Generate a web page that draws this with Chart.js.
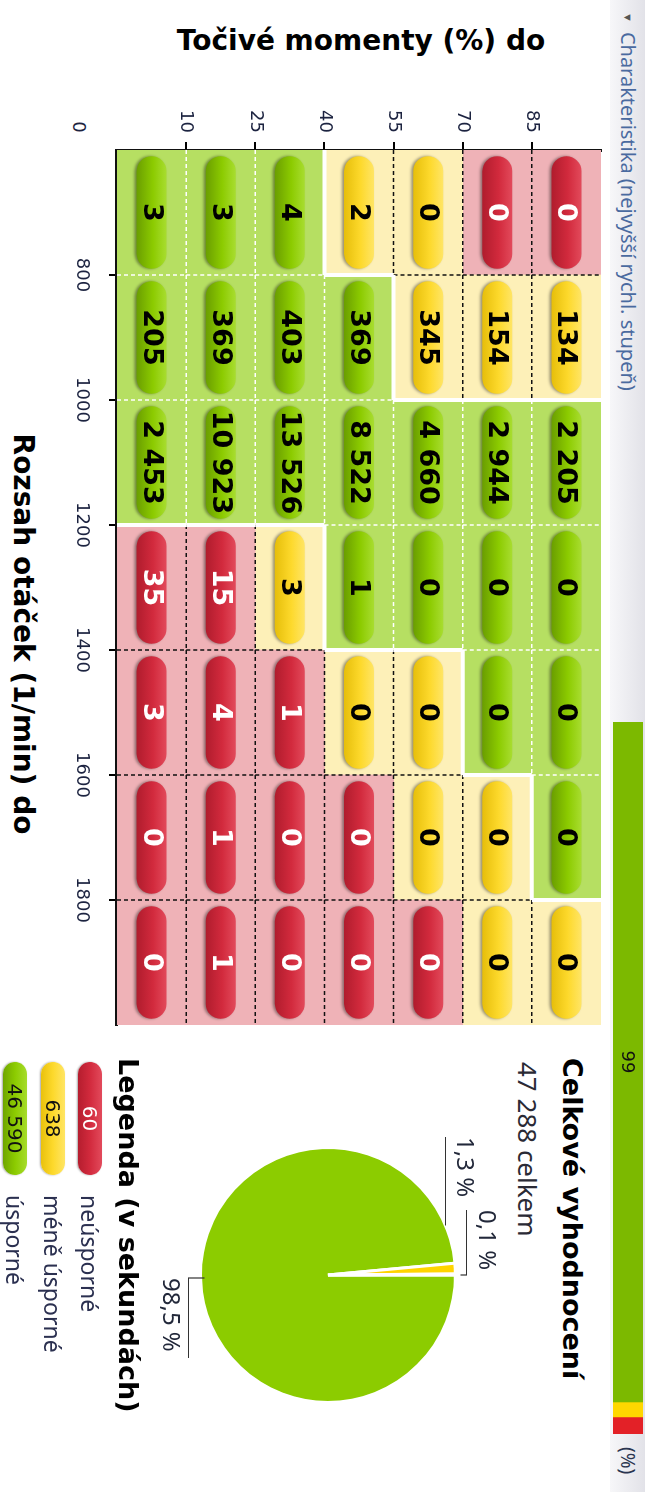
<!DOCTYPE html>
<html lang="cs">
<head>
<meta charset="utf-8">
<title>Charakteristika</title>
<script src="https://cdn.jsdelivr.net/npm/chart.js@4.4.1/dist/chart.umd.min.js"></script>
<style>
  html, body { margin: 0; padding: 0; background: #fff; }
  body { width: 645px; height: 1492px; position: relative; overflow: hidden; }
  /* the whole chart is laid out landscape and turned a quarter clockwise */
  #stage { position: absolute; left: 0; top: 0; width: 1492px; height: 645px;
    transform-origin: 0 0; transform: translate(645px, 0) rotate(90deg);
    font-family: "Noto Sans", sans-serif; color: #222; }
  .abs { position: absolute; white-space: nowrap; }
  canvas { position: absolute; }
  #header { left: 0; top: 0; width: 1492px; height: 35px; background: linear-gradient(#e2e2e8, #f7f7f9); }
  #headTitle { left: 12px; top: 0; line-height: 34px; font-size: 20px; color: #4a6aa0; }
  #headTitle .tri { font-size: 11px; color: #555; margin-right: 9px; position: relative; top: -3px; }
  #pct { left: 1447px; top: 0; line-height: 34px; font-size: 19px; color: #2a3550; }
  .bold { font-family: "DejaVu Sans", sans-serif; font-weight: bold; font-size: 27px; color: #000; line-height: 34px; }
  #yTitle { left: 41px; top: 284px; font-size: 28px; transform: translate(-50%, -50%) rotate(-90deg); }
  #xTitle { left: 634px; top: 622px; font-size: 28px; transform: translate(-50%, -50%); }
  #zero { left: 127px; top: 566px; transform: translate(-50%, -50%); font-family: "DejaVu Sans", sans-serif; font-size: 18px; color: #1c2340; }
  #sumTitle { left: 1058px; top: 56px; }
  #total { left: 1062px; top: 100px; font-size: 26px; line-height: 34px; color: #2a2a35; }
  #legTitle { left: 1058px; top: 500px; }
  .pill { position: absolute; left: 1062px; width: 113px; height: 24px; border-radius: 12px; text-align: center;
    line-height: 24px; font-family: "DejaVu Sans", sans-serif; font-size: 20px; box-shadow: 0 1px 2px rgba(0,0,0,.35); }
  .pill.R { background: linear-gradient(#e24a5b, #d22a3d 50%, #b51d2e); color: #fff; }
  .pill.Y { background: linear-gradient(#ffe565, #fdd92c 50%, #e9c10c); color: #111; }
  .pill.G { background: linear-gradient(#a6dc2c, #8ccb00 50%, #6fa500); color: #111; }
  .legText { left: 1195px; font-size: 23px; line-height: 24px; color: #2b3050; }
</style>
</head>
<body>
<div id="stage">
  <div id="header" class="abs"></div>
  <div id="headTitle" class="abs"><span class="tri">&#9660;</span>Charakteristika (nejvyšší rychl. stupeň)</div>
  <canvas id="gauge" width="712" height="30" style="left:722px;top:2px"></canvas>
  <div id="pct" class="abs">(%)</div>

  <div id="yTitle" class="abs bold">Točivé momenty (%) do</div>
  <div id="xTitle" class="abs bold">Rozsah otáček (1/min) do</div>
  <div id="zero" class="abs">0</div>
  <canvas id="heat" width="1030" height="645" style="left:0;top:0"></canvas>

  <div id="sumTitle" class="abs bold">Celkové vyhodnocení</div>
  <div id="total" class="abs"></div>
  <canvas id="pie" width="350" height="374" style="left:1100px;top:130px"></canvas>

  <div id="legTitle" class="abs bold">Legenda (v sekundách)</div>
  <div id="legend"></div>
</div>

<script>
// column bands: engine speed up to (1/min); tick labels sit on the band edges
const rpmTicks = ['800', '1000', '1200', '1400', '1600', '1800'];
// row bands: torque up to (%)
const torqueTicks = ['10', '25', '40', '55', '70', '85'];

// seconds spent in each cell, lowest torque band first, columns by rpm band
const secondsRow1 = [3, 205, 2453, 35, 3, 0, 0];
const secondsRow2 = [3, 369, 10923, 15, 4, 1, 1];
const secondsRow3 = [4, 403, 13526, 3, 1, 0, 0];
const secondsRow4 = [2, 369, 8522, 1, 0, 0, 0];
const secondsRow5 = [0, 345, 4660, 0, 0, 0, 0];
const secondsRow6 = [0, 154, 2944, 0, 0, 0, 0];
const secondsRow7 = [0, 134, 2205, 0, 0, 0, 0];

// rating of each cell: R = neúsporné, Y = méně úsporné, G = úsporné
const classRow1 = ['G', 'G', 'G', 'R', 'R', 'R', 'R'];
const classRow2 = ['G', 'G', 'G', 'R', 'R', 'R', 'R'];
const classRow3 = ['G', 'G', 'G', 'Y', 'R', 'R', 'R'];
const classRow4 = ['Y', 'G', 'G', 'G', 'Y', 'R', 'R'];
const classRow5 = ['Y', 'Y', 'G', 'G', 'Y', 'Y', 'R'];
const classRow6 = ['R', 'Y', 'G', 'G', 'G', 'Y', 'Y'];
const classRow7 = ['R', 'Y', 'G', 'G', 'G', 'G', 'Y'];

const legendKeys = ['R', 'Y', 'G'];
const legendNames = ['neúsporné', 'méně úsporné', 'úsporné'];

// top bar: share of the bar length taken by each colour, as drawn
const gaugeParts = [95.5, 2.1, 2.4];

const seconds = [secondsRow1, secondsRow2, secondsRow3, secondsRow4, secondsRow5, secondsRow6, secondsRow7];
const classes = [classRow1, classRow2, classRow3, classRow4, classRow5, classRow6, classRow7];

const cellColor = { R: '#efb2b7', Y: '#fdf0b8', G: '#b6df62' };
const pillColor = {
  R: ['#e24a5b', '#d22a3d', '#b01c2d'],
  Y: ['#ffe565', '#fdd92c', '#e6be0a'],
  G: ['#a8dd30', '#8ccb00', '#6a9e00']
};
const PH = 0.217; // half pill thickness in row units

const fmt = (v) => String(v).replace(/\B(?=(\d{3})+(?!\d))/g, ' ');

// totals per rating
const totals = {};
legendKeys.forEach((k) => { totals[k] = 0; });
seconds.forEach((row, r) => row.forEach((v, c) => { totals[classes[r][c]] += v; }));
const grand = legendKeys.reduce((s, k) => s + totals[k], 0);
const pct = (v) => (v / grand * 100).toFixed(1).replace('.', ',') + ' %';

document.getElementById('total').textContent = fmt(grand) + ' celkem';
const legendEl = document.getElementById('legend');
const legendY = [543, 580, 618];
legendKeys.forEach((k, i) => {
  const p = document.createElement('div');
  p.className = 'pill ' + k;
  p.style.top = legendY[i] + 'px';
  p.textContent = fmt(totals[k]);
  legendEl.appendChild(p);
  const t = document.createElement('div');
  t.className = 'abs legText';
  t.style.top = legendY[i] + 'px';
  t.textContent = legendNames[i];
  legendEl.appendChild(t);
});

// ---------- heat map ----------
function pillFill(ctx, k) {
  const chart = ctx.chart;
  const ys = chart.scales && chart.scales.y;
  if (!ys || !chart.chartArea) return pillColor[k][1];
  const r = ctx.dataset.row;
  const top = ys.getPixelForValue(r + 0.5 + PH);
  const bot = ys.getPixelForValue(r + 0.5 - PH);
  const g = chart.ctx.createLinearGradient(0, top, 0, bot);
  g.addColorStop(0, pillColor[k][0]);
  g.addColorStop(0.45, pillColor[k][1]);
  g.addColorStop(1, pillColor[k][2]);
  return g;
}

const datasets = [];
seconds.forEach((row, r) => {
  datasets.push({
    kind: 'cell', row: r,
    data: row.map((v, c) => ({ x: c + 0.5, y: [r, r + 1] })),
    backgroundColor: classes[r].map((k) => cellColor[k]),
    barPercentage: 1, categoryPercentage: 1, grouped: false, order: 2, borderWidth: 0
  });
});
seconds.forEach((row, r) => {
  datasets.push({
    kind: 'pill', row: r,
    data: row.map((v, c) => ({ x: c + 0.5, y: [r + 0.5 - PH, r + 0.5 + PH] })),
    backgroundColor: (ctx) => pillFill(ctx, classes[r][ctx.dataIndex]),
    borderRadius: 15, borderSkipped: false, borderWidth: 0,
    barPercentage: 0.9, categoryPercentage: 1, grouped: false, order: 1
  });
});

function drawCellLines(chart) {
  const { x: xs, y: ys } = chart.scales;
  const c = chart.ctx;
  const segs = [];
  for (let r = 0; r < 7; r++) {
    for (let col = 0; col < 7; col++) {
      if (col < 6) {
        segs.push([classes[r][col], classes[r][col + 1],
          xs.getPixelForValue(col + 1), ys.getPixelForValue(r), xs.getPixelForValue(col + 1), ys.getPixelForValue(r + 1)]);
      }
      if (r < 6) {
        segs.push([classes[r][col], classes[r + 1][col],
          xs.getPixelForValue(col), ys.getPixelForValue(r + 1), xs.getPixelForValue(col + 1), ys.getPixelForValue(r + 1)]);
      }
    }
  }
  c.save();
  const stroke = (s) => { c.beginPath(); c.moveTo(s[2], s[3]); c.lineTo(s[4], s[5]); c.stroke(); };
  c.lineWidth = 1.5;
  c.setLineDash([4, 3]);
  segs.filter((s) => s[0] === 'G' && s[1] === 'G').forEach((s) => { c.strokeStyle = '#fff'; stroke(s); });
  segs.filter((s) => s[0] !== 'G' && s[1] !== 'G').forEach((s) => { c.strokeStyle = '#111'; stroke(s); });
  c.setLineDash([]);
  c.lineWidth = 4;
  c.strokeStyle = '#fff';
  segs.filter((s) => (s[0] === 'G') !== (s[1] === 'G')).forEach(stroke);
  c.restore();
}

const heatDecor = {
  id: 'heatDecor',
  beforeDatasetsDraw(chart) { chart.$linesDone = false; },
  beforeDatasetDraw(chart, args) {
    if (chart.data.datasets[args.index].kind !== 'pill') return;
    if (!chart.$linesDone) { drawCellLines(chart); chart.$linesDone = true; }
    const c = chart.ctx;
    c.save();
    c.shadowColor = 'rgba(0,0,0,0.4)';
    c.shadowBlur = 3;
    c.shadowOffsetY = 2;
  },
  afterDatasetDraw(chart, args) {
    if (chart.data.datasets[args.index].kind === 'pill') chart.ctx.restore();
  },
  afterDatasetsDraw(chart) {
    const c = chart.ctx;
    c.save();
    c.font = 'bold 27px "DejaVu Sans"';
    c.textAlign = 'center';
    c.textBaseline = 'middle';
    chart.data.datasets.forEach((ds, i) => {
      if (ds.kind !== 'pill') return;
      chart.getDatasetMeta(i).data.forEach((bar, j) => {
        const red = classes[ds.row][j] === 'R';
        c.fillStyle = red ? '#fff' : '#000';
        c.fillText(fmt(seconds[ds.row][j]), bar.x, (bar.y + bar.base) / 2 + 1);
      });
    });
    c.restore();
  }
};

const tickFont = { family: 'DejaVu Sans', size: 18 };
new Chart(document.getElementById('heat'), {
  type: 'bar',
  data: { datasets },
  options: {
    responsive: false,
    animation: false,
    events: [],
    layout: { padding: { top: 44, right: 5, bottom: 0, left: 0 } },
    plugins: { legend: { display: false }, tooltip: { enabled: false } },
    scales: {
      x: {
        type: 'linear', min: 0, max: 7, offset: false,
        afterBuildTicks: (a) => { a.ticks = rpmTicks.map((t, i) => ({ value: i + 1 })); },
        afterFit: (a) => { a.height = 117; },
        grid: { drawOnChartArea: false, offset: false, color: '#000', lineWidth: 2, tickLength: 8 },
        border: { display: true, color: '#111', width: 3 },
        ticks: { callback: (v) => rpmTicks[v - 1], padding: 17, color: '#1c2340', font: tickFont, maxRotation: 0, autoSkip: false }
      },
      y: {
        type: 'linear', min: 0, max: 7,
        afterBuildTicks: (a) => { a.ticks = torqueTicks.map((t, i) => ({ value: i + 1 })); },
        afterFit: (a) => { a.width = 150; },
        grid: { drawOnChartArea: false, color: '#000', lineWidth: 2, tickLength: 8 },
        border: { display: true, color: '#111', width: 3 },
        ticks: { callback: (v) => torqueTicks[v - 1], padding: 9, color: '#1c2340', font: tickFont, autoSkip: false }
      }
    }
  },
  plugins: [heatDecor]
});

// ---------- pie ----------
const pieKeys = ['G', 'Y', 'R'];
const pieValues = pieKeys.map((k) => totals[k]);

const pieLabels = {
  id: 'pieLabels',
  afterDraw(chart) {
    const arc = chart.getDatasetMeta(0).data[0];
    if (!arc) return;
    const cx = arc.x, cy = arc.y, r = arc.outerRadius;
    const c = chart.ctx;
    const line = (pts) => {
      c.beginPath();
      pts.forEach((p, i) => (i ? c.lineTo(p[0], p[1]) : c.moveTo(p[0], p[1])));
      c.stroke();
    };
    c.save();
    c.strokeStyle = '#333';
    c.lineWidth = 1.2;
    c.font = '24px "Noto Sans"';
    c.fillStyle = '#22283a';
    c.textAlign = 'left';
    c.textBaseline = 'middle';
    // úsporné
    line([[cx + 3, cy + r - 4], [cx + 3, cy + r + 12], [cx + 83, cy + r + 12]]);
    c.fillText(pct(pieValues[0]), cx + 3, cy + r + 31);
    // méně úsporné
    const ly = cy - r + 10;
    line([[cx - 138, ly], [cx - Math.sqrt(r * r - (r - 10) * (r - 10)), ly]]);
    c.fillText(pct(pieValues[1]), cx - 138, ly - 18);
    // neúsporné
    line([[cx - 65, cy - r - 11], [cx, cy - r - 11], [cx, cy - r - 5]]);
    c.fillText(pct(pieValues[2]), cx - 65, cy - r - 30);
    c.restore();
  }
};

new Chart(document.getElementById('pie'), {
  type: 'pie',
  data: {
    labels: pieKeys.map((k) => legendNames[legendKeys.indexOf(k)]),
    datasets: [{
      data: pieValues,
      backgroundColor: ['#8ccc00', '#ffd400', '#e02030'],
      borderColor: '#fff',
      borderWidth: 3
    }]
  },
  options: {
    responsive: false,
    animation: false,
    events: [],
    layout: { padding: { left: 46, right: 46, top: 58, bottom: 58 } },
    plugins: { legend: { display: false }, tooltip: { enabled: false } }
  },
  plugins: [pieLabels]
});

// ---------- top bar ----------
const gaugeScore = Math.round(totals.G / grand * 100);
const gaugeText = {
  id: 'gaugeText',
  afterDatasetsDraw(chart) {
    const bar = chart.getDatasetMeta(0).data[0];
    const c = chart.ctx;
    c.save();
    c.font = '18px "DejaVu Sans"';
    c.fillStyle = '#111';
    c.textAlign = 'center';
    c.textBaseline = 'middle';
    c.fillText(String(gaugeScore), (bar.x + bar.base) / 2, bar.y + 1);
    c.restore();
  }
};
const gaugeColors = ['#7cb900', '#ffd700', '#e32127'];
new Chart(document.getElementById('gauge'), {
  type: 'bar',
  data: {
    labels: [''],
    datasets: gaugeParts.map((v, i) => ({
      data: [v], backgroundColor: gaugeColors[i], borderWidth: 0,
      barPercentage: 1, categoryPercentage: 1
    }))
  },
  options: {
    indexAxis: 'y',
    responsive: false,
    animation: false,
    events: [],
    layout: { padding: 0 },
    plugins: { legend: { display: false }, tooltip: { enabled: false } },
    scales: {
      x: { stacked: true, min: 0, max: 100, display: false },
      y: { stacked: true, display: false }
    }
  },
  plugins: [gaugeText]
});
</script>
</body>
</html>
